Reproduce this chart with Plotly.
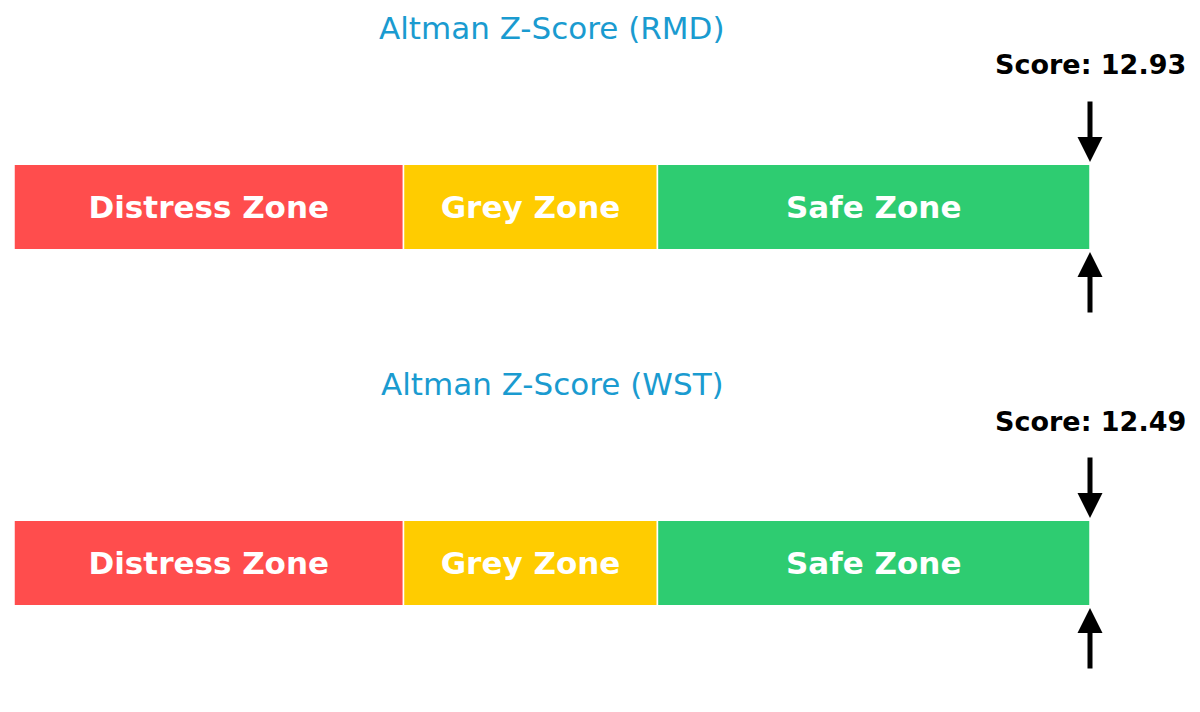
import plotly.graph_objects as go

# chart data
tickers = ["RMD", "WST"]
scores = [12.93, 12.49]
zone_names = ["Distress Zone", "Grey Zone", "Safe Zone"]
zone_bounds = [0, 1.81, 2.99, 5.0]
zone_colors = ["#ff4d4d", "#ffcc00", "#2ecc71"]

W, H = 1200, 712
OFF = 8  # page body margin
x_lo, x_hi = 0, zone_bounds[-1]
bar_half = 0.4

fig = go.Figure()

# panel y domains in paper coords (top panel first), pixel tops/bottoms of the axes
panel_px = [(100, 314), (456, 670)]
y_domains = [[1 - (b - OFF) / H, 1 - (t - OFF) / H] for t, b in panel_px]

for i, (tk, sc) in enumerate(zip(tickers, scores)):
    n = "" if i == 0 else str(i + 1)
    xa, ya = "x" + n, "y" + n
    for name, lo, hi, col in zip(zone_names, zone_bounds[:-1], zone_bounds[1:], zone_colors):
        fig.add_trace(go.Bar(
            x=[hi - lo], base=[lo], y=[0], orientation="h", width=2 * bar_half,
            marker=dict(color=col, line=dict(color="white", width=1.5)),
            text=[name], textposition="inside", insidetextanchor="middle",
            textfont=dict(family="DejaVu Sans", size=31, color="white", weight="bold"),
            constraintext="none", hoverinfo="skip", showlegend=False,
            xaxis=xa, yaxis=ya,
        ))

    fig.update_layout(**{
        "xaxis" + n: dict(domain=[(14 - OFF) / W, (1090 - OFF) / W], range=[x_lo, x_hi],
                          visible=False, anchor=ya, fixedrange=True),
        "yaxis" + n: dict(domain=y_domains[i], range=[-1, 1], visible=False,
                          anchor=xa, fixedrange=True),
    })

    pos = min(sc, x_hi)
    # title
    fig.add_annotation(text=f"Altman Z-Score ({tk})", xref=xa + " domain", yref=ya + " domain",
                       x=0.5, y=1, yshift=72, showarrow=False, yanchor="middle",
                       font=dict(family="DejaVu Sans", size=31, color="#1a9bd0"))
    # score label
    fig.add_annotation(text=f"Score: {sc:.2f}", xref=xa, yref=ya, x=pos, y=1, yshift=35,
                       showarrow=False, yanchor="middle",
                       font=dict(family="DejaVu Sans", size=27, color="black", weight="bold"))
    # arrows above and below the bar
    for tip, tail in [(bar_half + 0.02, 1.0), (-bar_half - 0.02, -1.0)]:
        fig.add_annotation(text="", xref=xa, yref=ya, axref=xa, ayref=ya,
                           x=pos, y=tip, ax=pos, ay=tail, showarrow=True,
                           arrowhead=2, arrowsize=1, arrowwidth=5, arrowcolor="black",
                           standoff=0)

fig.update_layout(
    width=W, height=H, margin=dict(l=0, r=0, t=0, b=0),
    plot_bgcolor="white", paper_bgcolor="white", barmode="overlay",
    showlegend=False,
)

fig.write_html("out.html")
